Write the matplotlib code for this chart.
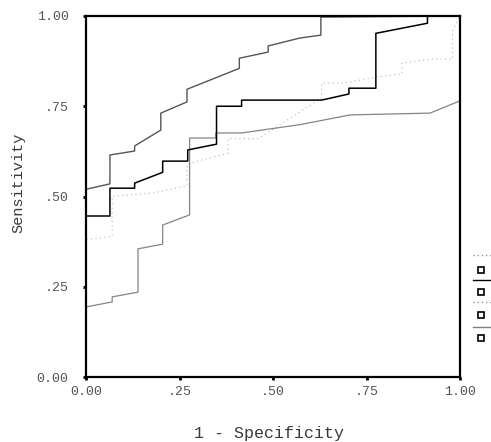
import matplotlib
matplotlib.use("Agg")
import matplotlib.pyplot as plt
from matplotlib.lines import Line2D

plt.rcParams['font.family'] = ['Liberation Mono', 'DejaVu Sans Mono']

# ROC curves (1 - specificity, sensitivity)
fpr_a = [0, 0, 0.064, 0.064, 0.13, 0.13, 0.20, 0.20, 0.27, 0.27, 0.41, 0.41,
         0.487, 0.487, 0.572, 0.628, 0.628, 1.0]
tpr_a = [0, 0.52, 0.535, 0.615, 0.626, 0.64, 0.684, 0.731, 0.762, 0.797, 0.855, 0.883,
         0.90, 0.917, 0.939, 0.947, 0.997, 1.0]

fpr_b = [0, 0, 0.064, 0.064, 0.13, 0.13, 0.205, 0.205, 0.272, 0.272, 0.349, 0.349,
         0.416, 0.416, 0.63, 0.703, 0.703, 0.775, 0.775, 0.913, 0.913, 1.0]
tpr_b = [0, 0.446, 0.446, 0.523, 0.523, 0.537, 0.567, 0.598, 0.598, 0.629, 0.645, 0.75,
         0.75, 0.767, 0.767, 0.784, 0.80, 0.80, 0.952, 0.98, 1.0, 1.0]

fpr_c = [0, 0, 0.07, 0.07, 0.139, 0.139, 0.205, 0.205, 0.277, 0.277, 0.347, 0.347,
         0.416, 0.572, 0.706, 0.92, 1.0]
tpr_c = [0, 0.194, 0.208, 0.222, 0.235, 0.355, 0.368, 0.421, 0.449, 0.662, 0.662, 0.676,
         0.676, 0.699, 0.726, 0.731, 0.765]

fpr_d = [0, 0, 0.07, 0.07, 0.18, 0.27, 0.27, 0.38, 0.38, 0.46, 0.63, 0.63, 0.69,
         0.77, 0.845, 0.845, 0.925, 0.98, 0.98, 1.0]
tpr_d = [0, 0.38, 0.39, 0.50, 0.51, 0.53, 0.59, 0.62, 0.66, 0.66, 0.773, 0.814, 0.814,
         0.83, 0.84, 0.87, 0.881, 0.881, 0.96, 1.0]

ticks = [0, 0.25, 0.5, 0.75, 1.0]
tick_labels = ['0.00', '.25', '.50', '.75', '1.00']

fig = plt.figure(figsize=(4.91, 4.42), dpi=100)
ax = fig.add_axes([86 / 491, 65 / 442, 374 / 491, 361 / 442])

ax.plot(fpr_d, tpr_d, color='#b4b4b4', lw=0.8, ls=(0, (1, 3)))
ax.plot(fpr_c, tpr_c, color='#858585', lw=0.9)
ax.plot(fpr_a, tpr_a, color='#555555', lw=1.0)
ax.plot(fpr_b, tpr_b, color='black', lw=1.1)

ax.set_xlim(0, 1)
ax.set_ylim(0, 1)
ax.set_xticks(ticks)
ax.set_xticklabels(tick_labels)
ax.set_yticks(ticks)
ax.set_yticklabels(tick_labels)
ax.tick_params(direction='out', length=2.5, width=2, colors='black',
               labelcolor='#555555', labelsize=9.5)
ax.tick_params(axis='y', pad=10)
ax.tick_params(axis='x', pad=4)
for s in ax.spines.values():
    s.set_linewidth(1.6)

ax.set_xlabel('1 - Specificity', fontsize=12, color='#3a3a3a')
ax.set_ylabel('Sensitivity', fontsize=11, color='#3a3a3a')
ax.xaxis.set_label_coords(0.49, -0.135)
ax.yaxis.set_label_coords(-0.163, 0.537)

# legend, cut off at the right edge as in the scan
def fx(px):
    return px / 491

def fy(py):
    return 1 - py / 442

legend_items = [
    ('#9a9a9a', (0, (1, 2)), 255, 270),
    ('black', '-', 280, 292),
    ('#9a9a9a', (0, (1, 2)), 302, 315),
    ('#808080', '-', 327, 338),
]
for col, ls, ly, my in legend_items:
    fig.add_artist(Line2D([fx(473), fx(491)], [fy(ly), fy(ly)], color=col, ls=ls, lw=1.0))
    fig.add_artist(Line2D([fx(481)], [fy(my)], marker='s', ms=4, mfc='white',
                          mec='black', mew=1.2, ls='none'))

fig.savefig('out.png', dpi=100)
